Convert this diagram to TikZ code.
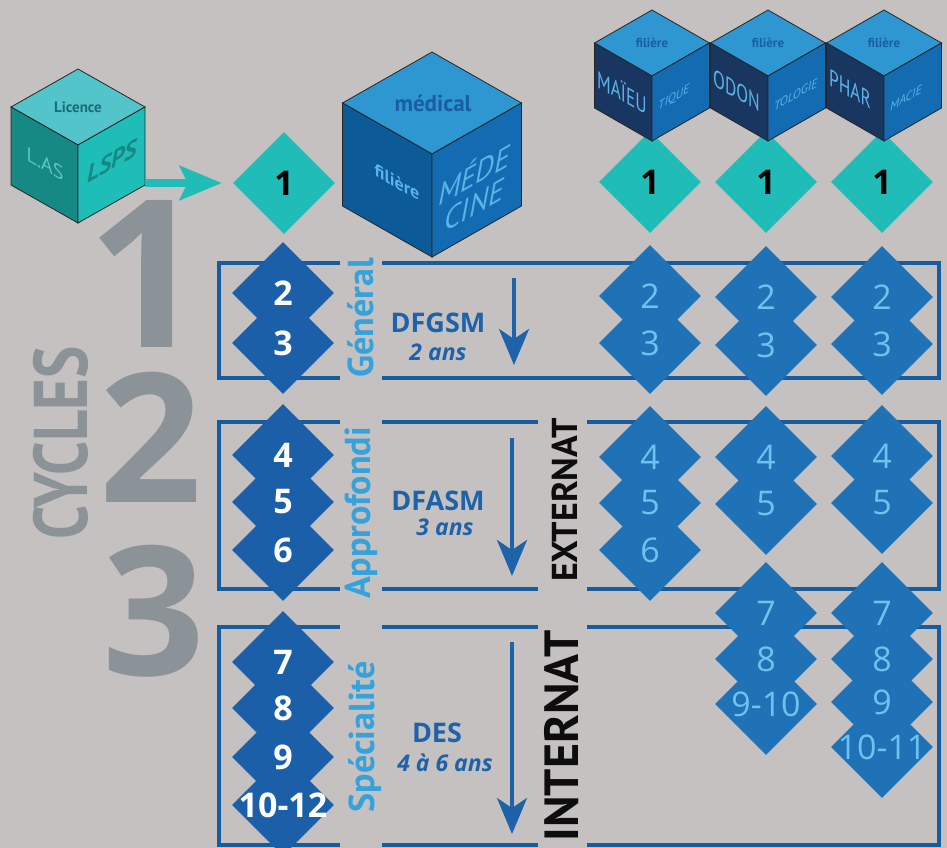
\documentclass[tikz,border=0pt]{standalone}
\usepackage{fontspec}
\setmainfont{PT Sans}
\newfontfamily\numfont{Open Sans}
\usetikzlibrary{positioning,arrows.meta,shapes.geometric}

\definecolor{bgc}{RGB}{196,193,192}
\definecolor{tealc}{RGB}{32,188,183}
\definecolor{darkd}{RGB}{27,95,169}
\definecolor{lightd}{RGB}{31,114,182}
\definecolor{lightnum}{RGB}{108,196,238}
\definecolor{boxblue}{RGB}{22,92,158}
\definecolor{lablue}{RGB}{54,162,220}
\definecolor{txtblue}{RGB}{30,98,170}
\definecolor{numgrey}{RGB}{139,146,152}
\definecolor{lictop}{RGB}{82,196,202}
\definecolor{licleft}{RGB}{23,137,132}
\definecolor{licright}{RGB}{31,189,184}
\definecolor{lictext}{RGB}{22,110,120}
\definecolor{lasc}{RGB}{92,198,196}
\definecolor{lspsc}{RGB}{22,135,130}
\definecolor{cubetop}{RGB}{46,151,210}
\definecolor{medleft}{RGB}{13,90,152}
\definecolor{medright}{RGB}{19,107,177}
\definecolor{navy}{RGB}{25,54,96}
\definecolor{cubetxt}{RGB}{26,94,160}
\definecolor{facetxt}{RGB}{90,180,232}

\newcommand{\fs}[1]{\fontsize{#1}{#1}\selectfont}

\tikzset{
  pics/isocube/.style n args={6}{code={
    \filldraw[fill=#4,draw=black!85,line width=0.8pt] (0,0) -- (#1,#2) -- (0,2*#2) -- (-#1,#2) -- cycle;
    \filldraw[fill=#5,draw=black!85,line width=0.8pt] (-#1,#2) -- (0,2*#2) -- (0,2*#2+#3) -- (-#1,#2+#3) -- cycle;
    \filldraw[fill=#6,draw=black!85,line width=0.8pt] (0,2*#2) -- (#1,#2) -- (#1,#2+#3) -- (0,2*#2+#3) -- cycle;
    \coordinate (-se) at (#1,#2+#3);
  }}
}

\def\medcol{2/293,3/343,4/455,5/502,6/550,7/662,8/708,9/757,10-12/805}
\def\macol{2/296,3/343,4/457,5/503,6/550}
\def\odcol{2/297,3/345,4/457,5/504,7/613,8/659,9-10/704}
\def\phcol{2/297,3/344,4/456,5/503,7/613,8/659,9/702,10-11/747}

\begin{document}
\begin{tikzpicture}[x=1pt,y=-1pt,
    dia/.style={diamond,aspect=1,minimum width=102pt,minimum height=102pt,inner sep=0pt},
    teald/.style={dia,fill=tealc,text=black,font=\fs{34}\numfont\bfseries},
    darkdia/.style={dia,fill=darkd},
    lightdia/.style={dia,fill=lightd},
    darknum/.style={inner sep=0pt,text=white,font=\fs{34}\numfont\bfseries},
    lightnum/.style={inner sep=0pt,text=lightnum,font=\fs{34}\numfont},
    boxline/.style={draw=boxblue,line width=4pt},
    vlab/.style={rotate=90,anchor=base,inner sep=0pt,text=lablue,font=\fs{36}\bfseries},
    vside/.style={rotate=90,anchor=base,inner sep=0pt,text=black!95},
    bignum/.style={anchor=base,inner sep=0pt,text=numgrey},
    cyc/.style={anchor=base,inner sep=0pt,text=txtblue,font=\fs{27}\numfont\bfseries},
    yrs/.style={anchor=base,inner sep=0pt,text=txtblue,font=\fs{23}\numfont\bfseries\itshape},
    downarr/.style={draw=txtblue,line width=4pt,-{Stealth[length=36pt,width=30pt,inset=10pt]}},
    tealarr/.style={draw=tealc,line width=8pt,-{Stealth[length=42pt,width=34pt,inset=8pt]},shorten >=11pt}]
  \useasboundingbox (0,0) rectangle (947,848);
  \fill[bgc] (0,0) rectangle (947,848);

  \node[bignum,font=\fs{206}\numfont\bfseries] (one) at (146,347) {1};
  \node[bignum,font=\fs{180}\numfont\bfseries] (two) at (151,502) {2};
  \node[bignum,font=\fs{180}\numfont\bfseries] (three) at (154,675) {3};
  \node[rotate=90,anchor=base,inner sep=0pt,text=numgrey,font=\fs{76}\bfseries\addfontfeature{FakeStretch=0.8}] (cycles) at (87,443) {CYCLES};

  \draw[boxline] (340,263) -| (219,378) -- (340,378) (382,378) -| (939,263) -- (382,263);
  \draw[boxline] (340,422) -| (219,589) -- (340,589) (382,589) -- (538,589) (587,589) -| (939,422) -- (587,422) (538,422) -- (382,422);
  \draw[boxline] (340,627) -| (219,845) -- (340,845) (382,845) -- (538,845) (587,845) -| (939,627) -- (587,627) (538,627) -- (382,627);

  \node[vlab] (gen) at (373,318) {Général};
  \node[vlab] (appr) at (370,513) {Approfondi};
  \node[vlab] (spec) at (374,737) {Spécialité};
  \node[vside,font=\fs{36}\bfseries] (ext) at (577,500) {EXTERNAT};
  \node[vside,font=\fs{48}\bfseries] (int) at (578,736) {INTERNAT};

  \node[cyc] (dfgsm) at (438,332) {DFGSM};
  \node[yrs] (dfgsmy) at (438,360) {2 ans};
  \node[cyc] (dfasm) at (438,510) {DFASM};
  \node[yrs] (dfasmy) at (445,535) {3 ans};
  \node[cyc] (des) at (437,742) {DES};
  \node[yrs] (desy) at (445,771) {4 à 6 ans};
  \coordinate (a1top) at (514,278);
  \coordinate (a1bot) at (514,365);
  \coordinate (a2top) at (512,438);
  \coordinate (a2bot) at (512,576);
  \coordinate (a3top) at (512,642);
  \coordinate (a3bot) at (512,834);
  \draw[downarr] (a1top) -- (a1bot);
  \draw[downarr] (a2top) -- (a2bot);
  \draw[downarr] (a3top) -- (a3bot);

  \foreach \n/\y in \medcol
    \node[darkdia] (m\n) at (283,\y) {};
  \foreach \n/\y in \medcol
    \node[darknum] (lm\n) at (m\n) {\n};
  \foreach \n/\y in \macol
    \node[lightdia] (ma\n) at (650,\y) {};
  \foreach \n/\y in \odcol
    \node[lightdia] (od\n) at (766,\y) {};
  \foreach \n/\y in \phcol
    \node[lightdia] (ph\n) at (882,\y) {};
  \foreach \n/\y in \macol
    \node[lightnum] (lma\n) at (ma\n) {\n};
  \foreach \n/\y in \odcol
    \node[lightnum] (lod\n) at (od\n) {\n};
  \foreach \n/\y in \phcol
    \node[lightnum] (lph\n) at (ph\n) {\n};

  \node[teald] (lic1) at (284,183) {1};
  \foreach \c/\x in {ma/650,od/766,ph/882}
    \node[teald] (\c1) at (\x,182) {1};

  \pic (lic) at (78,69) {isocube={67}{38}{78}{lictop}{licleft}{licright}};
  \node[font=\fs{15}\bfseries,text=lictext] (licT) at (78,107) {Licence};
  \node[font=\fs{20},text=lasc,yslant=-0.567] (licL) at (45,164) {L.AS};
  \node[font=\fs{24}\bfseries\itshape,text=lspsc,yslant=0.567] (licR) at (112,161) {LSPS};

  \pic (med) at (432,52) {isocube={89.5}{51}{103}{cubetop}{medleft}{medright}};
  \node[font=\fs{23}\bfseries,text=cubetxt] (medT) at (433,103) {médical};
  \node[font=\fs{18}\bfseries,text=facetxt,yslant=-0.57] (medL) at (397,182) {filière};
  \node[font=\fs{30}\itshape,text=facetxt,yslant=0.57,align=center,inner sep=0pt] (medR) at (474,188) {MÉDE\\CINE};

  \foreach \c/\x/\l/\r in {ma/652/MAÏEU/TIQUE,od/768/ODON/TOLOGIE,ph/884/PHAR/MACIE} {
    \pic (cube\c) at (\x,10) {isocube={57.5}{33}{65}{cubetop}{navy}{medright}};
    \node[font=\fs{13}\bfseries,text=cubetxt] (\c T) at (\x,43) {filière};
    \node[anchor=west,inner sep=0pt,font=\fs{24}\addfontfeature{FakeStretch=0.72},text=facetxt,yslant=-0.57] (\c L) at (\x-55,77) {\l};
    \node[anchor=west,inner sep=0pt,font=\fs{12}\itshape,text=facetxt,yslant=0.57] (\c R) at (\x+6,107) {\r};
  }

  \draw[tealarr] (lic-se |- lic1.west) -- (lic1.west);
\end{tikzpicture}
\end{document}
